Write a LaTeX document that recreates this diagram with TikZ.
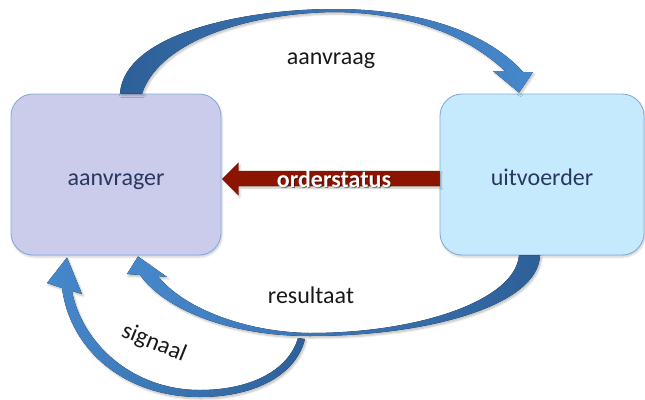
\documentclass[tikz,border=0pt]{standalone}
\usepackage{fontspec}
\setmainfont{Carlito}
\usetikzlibrary{calc,shadows.blur}

\definecolor{reqfill}{RGB}{203,203,235}
\definecolor{execfill}{RGB}{198,234,253}
\definecolor{boxline}{RGB}{135,172,218}
\definecolor{boxtext}{RGB}{40,56,96}
\definecolor{flowdark}{RGB}{46,96,152}
\definecolor{flowlight}{RGB}{70,136,204}
\definecolor{statusred}{RGB}{142,20,2}

\begin{document}
\begin{tikzpicture}[x=1pt,y=-1pt,
  every node/.style={font=\fontsize{24}{28}\selectfont},
  party/.style={draw=boxline, line width=0.9pt, rounded corners=22pt,
    minimum height=161pt, text height=21pt, text depth=0pt, inner sep=0pt,
    text=boxtext, blur shadow={shadow xshift=1pt, shadow yshift=-2pt, shadow opacity=20, shadow blur steps=4}},
  flow/.style={blur shadow={shadow xshift=1.5pt, shadow yshift=-2pt, shadow opacity=25, shadow blur steps=5}},
  flowlabel/.style={anchor=base, text=black!90}]

\useasboundingbox (0,0) rectangle (645,399);

% the two parties
\node[party, fill=reqfill, minimum width=210pt] (req) at (116,174.5) {aanvrager};
\node[party, fill=execfill, minimum width=204pt] (exec) at (542,174.5) {uitvoerder};

% anchor points of the curved arrows
\coordinate (aT1) at ($(req.north)+(4,0)$);
\coordinate (aT2) at ($(req.north)+(26,0)$);
\coordinate (aTip) at ($(exec.north)+(-23,-1)$);
\coordinate (rT1) at ($(exec.south)+(-2,0)$);
\coordinate (rT2) at ($(exec.south)+(-23,0)$);
\coordinate (rTip) at ($(req.south)+(22,1)$);
\coordinate (sT1) at (305,339);
\coordinate (sT2) at (298,338);
\coordinate (sTip) at ($(req.south)+(-49,2)$);

% aanvraag: from requester over the top to executor
\fill[flow, left color=flowdark, right color=flowlight]
  (aT1) .. controls (124,35) and (240,9) .. (335,9)
        .. controls (425,9) and (490,35) .. (523,72)
  -- (533,72) -- (aTip) -- (493,71) -- (505,71)
        .. controls (470,38) and (415,13) .. (335,12)
        .. controls (250,13) and (160,40) .. (aT2) -- cycle;

% resultaat: from executor under the bottom back to requester
\fill[flow, left color=flowlight, right color=flowdark]
  (rT1) .. controls (538,305) and (430,336) .. (310,336)
        .. controls (230,336) and (165,310) .. (140,275)
  -- (127,274) -- (rTip) -- (167,277) -- (158,276)
        .. controls (180,305) and (240,332) .. (310,333)
        .. controls (420,333) and (515,300) .. (rT2) -- cycle;

% signaal: small loop back to requester
\fill[flow, left color=flowlight, right color=flowdark]
  (sT1) .. controls (295,378) and (250,397) .. (200,397)
        .. controls (125,397) and (70,350) .. (62,288)
  -- (47,283) -- (sTip) -- (82,294) -- (72,291)
        .. controls (82,343) and (132,390) .. (200,390)
        .. controls (248,390) and (288,372) .. (sT2) -- cycle;

% orderstatus: straight red arrow from executor to requester
\fill[statusred, flow, draw=statusred!70!black, line width=0.4pt]
  ($(exec.west)+(0,-3.5)$) -- ($(req.east)+(17,-3.5)$)
  -- ($(req.east)+(17,-11.5)$) -- ($(req.east)+(1,4.5)$)
  -- ($(req.east)+(17,20.5)$) -- ($(req.east)+(17,11.5)$)
  -- ($(exec.west)+(0,11.5)$) -- cycle;

% labels
\node[flowlabel] (lblreq) at (331,64) {aanvraag};
\node[flowlabel] (lblres) at (311,303) {resultaat};
\node[flowlabel, anchor=center, rotate=-22] (lblsig) at (154,343) {signaal};
\node[anchor=base, text=black, opacity=0.45, font=\fontsize{24}{28}\selectfont\bfseries] at (335,188.5) {orderstatus};
\node[anchor=base, text=white, font=\fontsize{24}{28}\selectfont\bfseries] (lblstat) at (334,187) {orderstatus};
\end{tikzpicture}
\end{document}
